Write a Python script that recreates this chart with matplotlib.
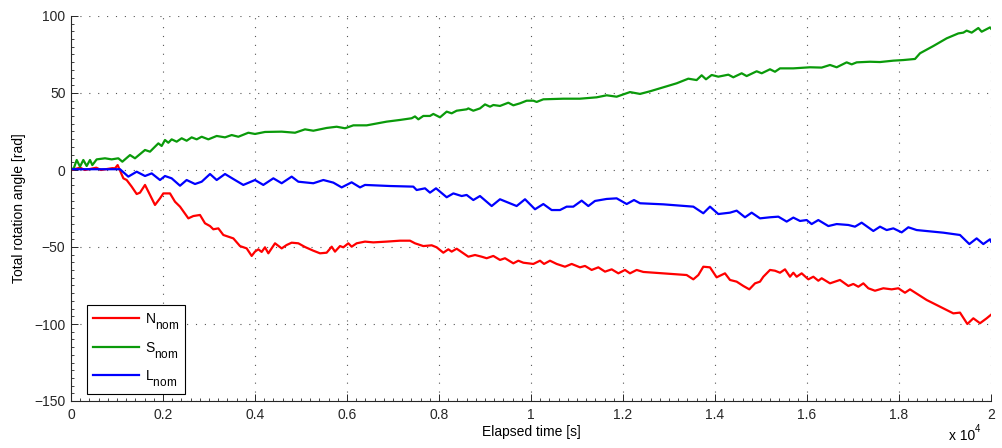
import matplotlib
matplotlib.use("Agg")
import matplotlib.pyplot as plt
import matplotlib._mathtext as mathtext_internal
from matplotlib.ticker import MultipleLocator, FuncFormatter

plt.rcParams["font.family"] = ["Liberation Sans", "DejaVu Sans"]
plt.rcParams["mathtext.fontset"] = "custom"
plt.rcParams["mathtext.rm"] = "Liberation Sans"
plt.rcParams["mathtext.it"] = "Liberation Sans:italic"
# TeX-style subscripts in the legend: nearly full size and set well below the baseline
mathtext_internal.SHRINK_FACTOR = 0.85
mathtext_internal.FontConstantsBase.sub1 = 0.75

# Elapsed time [s] and total rotation angle [rad] for each scenario
t_n = [0, 200, 300, 550, 650, 900, 957, 1014, 1138, 1210, 1319, 1428, 1500, 1609, 1717, 1826,
       1935, 2007, 2152, 2261, 2370, 2551, 2659, 2804, 2913, 3022, 3094, 3203, 3312, 3420,
       3529, 3674, 3819, 3928, 4000, 4072, 4145, 4217, 4290, 4435, 4580, 4688, 4797, 4942,
       5087, 5268, 5413, 5558, 5667, 5739, 5848, 5920, 6029, 6101, 6210, 6391, 6572, 6862,
       7152, 7370, 7478, 7659, 7841, 7949, 8094, 8203, 8275, 8384, 8529, 8638, 8783, 8928,
       9036, 9181, 9326, 9435, 9616, 9725, 9833, 10051, 10196, 10283, 10413, 10558, 10739,
       10884, 11065, 11174, 11319, 11464, 11609, 11754, 11899, 12043, 12152, 12297, 12442,
       12877, 13384, 13529, 13638, 13746, 13891, 14036, 14217, 14326, 14471, 14616, 14746,
       14870, 14978, 15051, 15196, 15304, 15413, 15522, 15630, 15703, 15775, 15884, 16029,
       16138, 16246, 16319, 16500, 16717, 16899, 17007, 17116, 17225, 17333, 17478, 17659,
       17841, 17986, 18130, 18239, 18601, 19181, 19326, 19486, 19616, 19761, 19906, 20000]
n_nom = [0.0, 1.5, 0.0, 1.5, 0.0, 1.2, 1.1, 3.2, -5.4, -6.5, -10.8, -15.6, -14.7, -9.7, -16.2,
         -22.7, -18.4, -15.2, -15.2, -20.6, -23.8, -31.4, -29.9, -29.2, -34.6, -36.4, -38.5,
         -37.9, -42.2, -43.3, -44.4, -49.4, -50.9, -55.8, -53.0, -51.5, -53.2, -50.2, -54.1,
         -47.6, -50.9, -48.7, -47.2, -47.6, -50.0, -52.4, -54.1, -53.7, -49.8, -53.0, -49.4,
         -50.2, -47.6, -49.8, -47.6, -46.5, -47.0, -46.5, -45.9, -45.9, -47.6, -49.4, -48.9,
         -50.2, -53.7, -51.5, -53.0, -51.1, -54.1, -56.3, -55.2, -56.3, -57.3, -55.8, -58.4,
         -57.3, -60.6, -58.9, -60.2, -61.0, -58.9, -61.0, -58.9, -61.0, -62.8, -61.0, -63.2,
         -62.3, -64.9, -63.2, -66.0, -64.5, -67.1, -64.9, -67.1, -64.9, -66.2, -67.1, -68.2,
         -71.0, -68.2, -62.8, -63.2, -69.7, -67.1, -71.4, -72.5, -75.3, -77.5, -73.6, -72.5,
         -69.3, -64.9, -65.4, -66.7, -64.5, -69.3, -66.7, -69.3, -67.1, -71.0, -69.3, -71.9,
         -70.3, -73.6, -71.4, -75.3, -74.0, -75.8, -73.6, -76.8, -78.4, -76.8, -77.5, -76.8,
         -79.7, -77.5, -84.4, -93.1, -92.6, -100.0, -96.3, -99.5, -96.3, -94.0]

t_s = [0, 60, 124, 196, 268, 341, 413, 464, 558, 739, 884, 1029, 1116, 1283, 1391, 1609, 1717,
       1899, 1971, 2043, 2116, 2188, 2297, 2406, 2514, 2623, 2732, 2841, 2986, 3167, 3348,
       3493, 3638, 3855, 4000, 4217, 4580, 4870, 5087, 5268, 5558, 5775, 5957, 6138, 6428,
       6862, 7152, 7406, 7478, 7551, 7659, 7804, 7877, 8022, 8167, 8275, 8384, 8601, 8638,
       8746, 8891, 9000, 9109, 9181, 9326, 9507, 9616, 9761, 9906, 10051, 10123, 10268,
       10703, 11065, 11428, 11645, 11862, 12152, 12370, 12587, 12877, 13167, 13420, 13601,
       13710, 13804, 13928, 14072, 14290, 14398, 14580, 14688, 14906, 15015, 15196, 15304,
       15413, 15703, 16065, 16319, 16500, 16645, 16862, 16971, 17080, 17370, 17587, 17877,
       18094, 18348, 18457, 18746, 19036, 19290, 19399, 19471, 19580, 19725, 19797, 19978,
       20000]
s_nom = [0.6, 1.1, 6.5, 2.2, 6.5, 2.6, 6.5, 3.2, 6.9, 7.6, 6.9, 7.6, 5.4, 9.7, 7.6, 13.0, 11.9,
         17.3, 15.6, 19.5, 17.7, 19.9, 18.4, 20.6, 19.0, 21.2, 19.9, 21.6, 19.9, 22.1, 21.2,
         22.7, 21.6, 24.2, 23.4, 24.7, 24.9, 24.2, 26.4, 25.5, 27.3, 28.1, 27.1, 29.0, 29.0,
         31.4, 32.5, 33.6, 34.8, 32.9, 35.1, 35.1, 36.4, 34.2, 37.9, 36.8, 38.5, 39.4, 40.0,
         38.5, 40.0, 42.6, 41.1, 42.2, 41.6, 43.7, 42.0, 43.3, 45.0, 45.0, 44.2, 45.9, 46.3,
         46.3, 47.2, 48.5, 47.6, 50.6, 49.4, 51.1, 53.7, 56.3, 59.3, 58.4, 61.5, 58.9, 61.7,
         60.6, 61.9, 60.2, 62.8, 61.0, 64.1, 62.8, 65.4, 63.8, 66.0, 66.0, 66.7, 66.5, 68.2,
         66.7, 69.9, 68.6, 69.9, 70.3, 70.1, 71.0, 71.4, 72.1, 75.8, 80.5, 85.5, 88.7, 89.2,
         90.5, 89.2, 92.2, 89.8, 92.6, 91.8]

t_l = [0, 1065, 1246, 1428, 1609, 1754, 1935, 2043, 2188, 2370, 2514, 2696, 2841, 3022, 3167,
       3348, 3565, 3746, 4000, 4181, 4399, 4580, 4797, 4942, 5268, 5486, 5703, 5884, 6101,
       6283, 6391, 6935, 7442, 7514, 7696, 7804, 7935, 8167, 8312, 8493, 8601, 8746, 8891,
       9145, 9326, 9688, 9870, 10087, 10268, 10449, 10630, 10775, 10920, 11101, 11246, 11391,
       11645, 11862, 12080, 12239, 12370, 12877, 13529, 13746, 13891, 14072, 14326, 14471,
       14652, 14797, 14978, 15196, 15377, 15558, 15703, 15848, 15993, 16101, 16246, 16464,
       16645, 16899, 17043, 17188, 17442, 17587, 17732, 17877, 18058, 18203, 18384, 18964,
       19326, 19529, 19688, 19833, 19978, 20000]
l_nom = [0.5, 0.5, -4.3, -1.1, -3.9, -2.2, -6.5, -3.9, -5.4, -10.2, -6.5, -9.1, -7.6, -2.6,
         -6.5, -2.6, -6.5, -9.7, -6.5, -9.7, -5.4, -8.6, -4.3, -7.6, -8.6, -6.5, -8.2, -11.3,
         -8.0, -11.3, -9.7, -10.4, -10.8, -13.0, -11.9, -14.7, -11.9, -17.7, -15.2, -16.9,
         -16.2, -19.5, -16.9, -23.4, -19.0, -23.4, -19.0, -25.5, -22.1, -26.0, -26.0, -23.8,
         -23.8, -19.9, -23.4, -20.1, -18.8, -18.4, -22.1, -19.5, -21.6, -22.3, -23.8, -28.1,
         -23.8, -28.6, -27.7, -26.4, -30.7, -27.7, -31.4, -30.7, -30.3, -33.5, -30.9, -33.1,
         -32.5, -35.1, -32.5, -36.4, -35.1, -35.7, -36.8, -34.2, -39.6, -36.8, -39.0, -37.9,
         -40.5, -37.2, -39.0, -40.7, -42.2, -48.1, -44.4, -48.1, -45.0, -46.5]

labels = [r"N$_{\mathrm{nom}}$", r"S$_{\mathrm{nom}}$", r"L$_{\mathrm{nom}}$"]
colors = ["#ff0000", "#0a9a0a", "#0000ff"]

fig = plt.figure(figsize=(10.02, 4.48), dpi=100)
ax = fig.add_axes([71 / 1002, 47 / 448, 920 / 1002, 385 / 448])

for t, v, lab, c in zip([t_n, t_s, t_l], [n_nom, s_nom, l_nom], labels, colors):
    ax.plot(t, v, color=c, lw=1.6, label=lab, solid_joinstyle="round")

ax.set_xlim(0, 20000)
ax.set_ylim(-150, 100)
ax.xaxis.set_major_locator(MultipleLocator(2000))
ax.xaxis.set_minor_locator(MultipleLocator(200))
ax.yaxis.set_major_locator(MultipleLocator(50))
ax.yaxis.set_minor_locator(MultipleLocator(5))
ax.xaxis.set_major_formatter(FuncFormatter(lambda v, p: f"{v / 1e4:g}"))

ax.tick_params(which="both", direction="in", labelsize=10, colors="#262626")
ax.tick_params(which="major", length=5, width=0.7)
ax.tick_params(which="minor", length=2.5, width=0.6)
ax.tick_params(axis="x", pad=5)
ax.tick_params(axis="y", pad=4)

for side in ["top", "right"]:
    ax.spines[side].set_visible(False)
for side in ["left", "bottom"]:
    ax.spines[side].set_linewidth(0.8)
    ax.spines[side].set_color("#262626")

ax.grid(True, which="major", color="#555555", linestyle=(0, (1, 7)), lw=0.8)

ax.set_xlabel("Elapsed time [s]", fontsize=10, labelpad=2)
ax.set_ylabel("Total rotation angle [rad]", fontsize=10, labelpad=6)
fig.text(949 / 1002, 1 - 440 / 448, "x 10", fontsize=10, va="baseline", ha="left")
fig.text(975 / 1002, 1 - 432 / 448, "4", fontsize=7, va="baseline", ha="left")

leg = ax.legend(loc="upper left", bbox_to_anchor=(87 / 1002, 1 - 305 / 448),
                bbox_transform=fig.transFigure, fancybox=False, framealpha=1,
                edgecolor="black", fontsize=10, handlelength=3.3, labelspacing=0.6,
                borderpad=0.45, handletextpad=0.4, borderaxespad=0)
leg.get_frame().set_linewidth(0.8)

fig.savefig("out.png", dpi=100)
